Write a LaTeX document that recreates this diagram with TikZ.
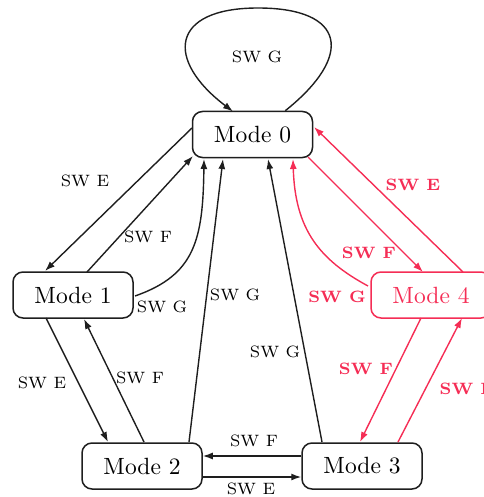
\documentclass[tikz,border=0pt]{standalone}
\usetikzlibrary{arrows.meta}
\definecolor{myred}{RGB}{245,45,85}
\definecolor{mygray}{RGB}{30,30,30}
\newcommand{\bigtxt}[1]{\scalebox{2.35}{\fontsize{10}{12}\selectfont #1}}
\newcommand{\smtxt}[1]{\scalebox{2.35}{\fontsize{7}{8.4}\selectfont #1}}
\begin{document}
\begin{tikzpicture}[x=1pt,y=-1pt,
  mode/.style={draw=mygray,line width=1.5pt,rounded corners=10pt,minimum width=120pt,minimum height=46pt,inner sep=0pt},
  redmode/.style={mode,draw=myred,text=myred},
  lab/.style={inner sep=1pt},
  redlab/.style={lab,text=myred,font=\bfseries},
  edge/.style={draw=mygray,line width=1.4pt,-{Latex[length=10pt,width=7pt]}},
  redge/.style={edge,draw=myred,-{Latex[length=10pt,width=7pt]},myred}]
\useasboundingbox (0,0) rectangle (483,497);
\node[mode] (m0) at (252.5,134.5) {\bigtxt{Mode 0}};
\node[mode] (m1) at (73,295) {\bigtxt{Mode 1}};
\node[mode] (m2) at (142,466) {\bigtxt{Mode 2}};
\node[mode] (m3) at (362,466) {\bigtxt{Mode 3}};
\node[redmode] (m4) at (431,295) {\bigtxt{Mode 4}};
% self loop
\draw[edge] (m0.north east) ++(-28,0) coordinate (s0)
  .. controls (355,55) and (345,8) .. (258,8)
  .. controls (170,8) and (165,60) .. (233,111.5);
\node[lab] (l0) at (257,57) {\smtxt{SW G}};
% Mode0 -> Mode1
\coordinate (a1) at (192,128);
\coordinate (b1) at (45,271);
\draw[edge] (a1) -- (b1);
\node[lab] (l1) at (85,181) {\smtxt{SW E}};
% Mode1 -> Mode0
\coordinate (a2) at (87,272);
\coordinate (b2) at (193,156);
\draw[edge] (a2) -- (b2);
\node[lab] (l2) at (148,237) {\smtxt{SW F}};
% Mode1 -> Mode0 curve
\coordinate (a3) at (135,296);
\coordinate (b3) at (204,159);
\draw[edge] (a3) .. controls (195,275) and (203,240) .. (b3);
\node[lab] (l3) at (162,307) {\smtxt{SW G}};
% Mode2 -> Mode0
\coordinate (a4) at (189,442);
\coordinate (b4) at (223,159);
\draw[edge] (a4) -- (b4);
\node[lab] (l4) at (235,295) {\smtxt{SW G}};
% Mode3 -> Mode0
\coordinate (a5) at (322,442);
\coordinate (b5) at (268,159);
\draw[edge] (a5) -- (b5);
\node[lab] (l5) at (275,352) {\smtxt{SW G}};
% Mode1 -> Mode2
\coordinate (a6) at (46,318);
\coordinate (b6) at (108,442);
\draw[edge] (a6) -- (b6);
\node[lab] (l6) at (42,383) {\smtxt{SW E}};
% Mode2 -> Mode1
\coordinate (a7) at (144,442);
\coordinate (b7) at (84,319);
\draw[edge] (a7) -- (b7);
\node[lab] (l7) at (140,378) {\smtxt{SW F}};
% Mode3 -> Mode2
\draw[edge] (m3.west |- 0,456) -- (m2.east |- 0,456);
\node[lab] (l8) at (254,441) {\smtxt{SW F}};
% Mode2 -> Mode3
\draw[edge] (m2.east |- 0,477) -- (m3.west |- 0,477);
\node[lab] (l9) at (251,489) {\smtxt{SW E}};
% red edges
\coordinate (a10) at (308,157);
\coordinate (b10) at (423,272);
\draw[redge] (a10) -- (b10);
\node[redlab] (l10) at (369,253) {\smtxt{\bfseries SW F}};
\coordinate (a11) at (463,272);
\coordinate (b11) at (314,127);
\draw[redge] (a11) -- (b11);
\node[redlab] (l11) at (413,185) {\smtxt{\bfseries SW E}};
\coordinate (a12) at (368,286);
\coordinate (b12) at (293,159);
\draw[redge] (a12) .. controls (320,260) and (295,230) .. (b12);
\node[redlab] (l12) at (337,297) {\smtxt{\bfseries SW G}};
\coordinate (a13) at (421,318);
\coordinate (b13) at (360,442);
\draw[redge] (a13) -- (b13);
\node[redlab] (l13) at (366,369) {\smtxt{\bfseries SW F}};
\coordinate (a14) at (398,442);
\coordinate (b14) at (462,318);
\draw[redge] (a14) -- (b14);
\node[redlab] (l14) at (467,389) {\smtxt{\bfseries SW E}};
\end{tikzpicture}
\end{document}
